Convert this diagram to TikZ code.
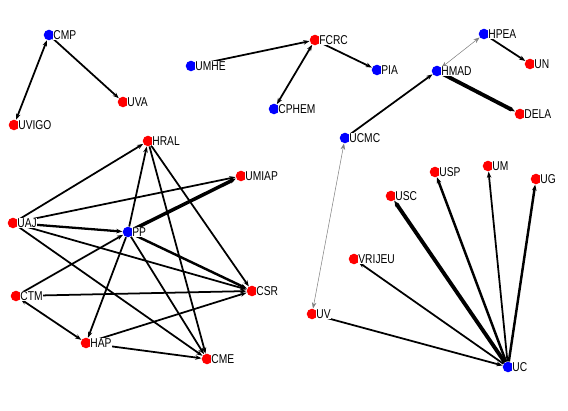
\documentclass[tikz,border=0pt]{standalone}
\usepackage{fontspec}
\setmainfont[FakeStretch=0.8]{Liberation Sans}
\usepackage{xcolor}
\usetikzlibrary{arrows.meta, backgrounds}

\begin{document}
\begin{tikzpicture}[x=0.02cm, y=-0.02cm,
                        dot/.style={circle, minimum size=6pt, inner sep=0pt},
                        rd/.style={dot, fill=red},
                        bl/.style={dot, fill=blue},
                        every label/.style={font=\fontsize{7.3}{8}\selectfont, inner sep=0.3pt, fill=white},
                        label distance=-1.2pt,
                        >={Stealth[length=3.5pt, width=2.6pt]}]
        \useasboundingbox (0,0) rectangle (568,411);
        % Nodes
        \node[bl, label=right:CMP] (CMP) at (49,35) {};
        \node[rd, label=right:UVIGO] (UVIGO) at (14,125) {};
        \node[rd, label=right:UVA] (UVA) at (123,102) {};
        \node[bl, label=right:UMHE] (UMHE) at (191,66) {};
        \node[rd, label=right:FCRC] (FCRC) at (315,40) {};
        \node[bl, label=right:PIA] (PIA) at (377,70) {};
        \node[bl, label=right:CPHEM] (CPHEM) at (274,109) {};
        \node[bl, label=right:HPEA] (HPEA) at (484,34) {};
        \node[bl, label=right:HMAD] (HMAD) at (437,71) {};
        \node[rd, label=right:UN] (UN) at (530,64) {};
        \node[rd, label=right:DELA] (DELA) at (520,114) {};
        \node[bl, label=right:UCMC] (UCMC) at (345,138) {};
        \node[rd, label=right:HRAL] (HRAL) at (148,141) {};
        \node[rd, label=right:UMIAP] (UMIAP) at (241,176) {};
        \node[rd, label=right:UAJ] (UAJ) at (13,223) {};
        \node[bl, label=right:PP] (PP) at (128,232) {};
        \node[rd, label=right:CTM] (CTM) at (16,296) {};
        \node[rd, label=right:CSR] (CSR) at (252,291) {};
        \node[rd, label=right:HAP] (HAP) at (86,343) {};
        \node[rd, label=right:CME] (CME) at (207,359) {};
        \node[rd, label=right:USC] (USC) at (391,196) {};
        \node[rd, label=right:USP] (USP) at (435,172) {};
        \node[rd, label=right:UM] (UM) at (488,166) {};
        \node[rd, label=right:UG] (UG) at (536,179) {};
        \node[rd, label=right:VRIJEU] (VRIJEU) at (354,259) {};
        \node[rd, label=right:UV] (UV) at (312,314) {};
        \node[bl, label=right:UC] (UC) at (508,367) {};
        \begin{scope}[on background layer={line width=1pt}]
        % Edges, top
        \draw[<->] (CMP) -- (UVIGO);
        \draw[->] (CMP) -- (UVA);
        \draw[->] (UMHE) -- (FCRC);
        \draw[<->] (CPHEM) -- (FCRC);
        \draw[->] (FCRC) -- (PIA);
        \draw[<->, line width=0.3pt, gray] (HMAD) -- (HPEA);
        \draw[->] (HPEA) -- (UN);
        \draw[->, line width=2.2pt] (HMAD) -- (DELA);
        \draw[->] (UCMC) -- (HMAD);
        \draw[<->, line width=0.3pt, gray] (UCMC) -- (UV);
        % Edges, left group
        \draw[->] (UAJ) -- (HRAL);
        \draw[->] (UAJ) -- (UMIAP);
        \draw[->, line width=1.3pt] (UAJ) -- (PP);
        \draw[->] (UAJ) -- (CSR);
        \draw[->] (UAJ) -- (CME);
        \draw[->] (PP) -- (HRAL);
        \draw[->, line width=2pt] (PP) -- (UMIAP);
        \draw[->, line width=1.4pt] (PP) -- (CSR);
        \draw[->] (PP) -- (CME);
        \draw[->] (PP) -- (HAP);
        \draw[->] (CTM) -- (PP);
        \draw[->] (CTM) -- (CSR);
        \draw[<->] (CTM) -- (HAP);
        \draw[->] (HAP) -- (CSR);
        \draw[->] (HAP) -- (CME);
        \draw[->] (HRAL) -- (CSR);
        \draw[->] (HRAL) -- (CME);
        % Edges, right group
        \draw[->, line width=2.2pt] (UC) -- (USC);
        \draw[->, line width=1.4pt] (UC) -- (USP);
        \draw[->] (UC) -- (UM);
        \draw[->, line width=1.4pt] (UC) -- (UG);
        \draw[->] (UC) -- (VRIJEU);
        \draw[->] (UV) -- (UC);
        \end{scope}
    \end{tikzpicture}
\end{document}
